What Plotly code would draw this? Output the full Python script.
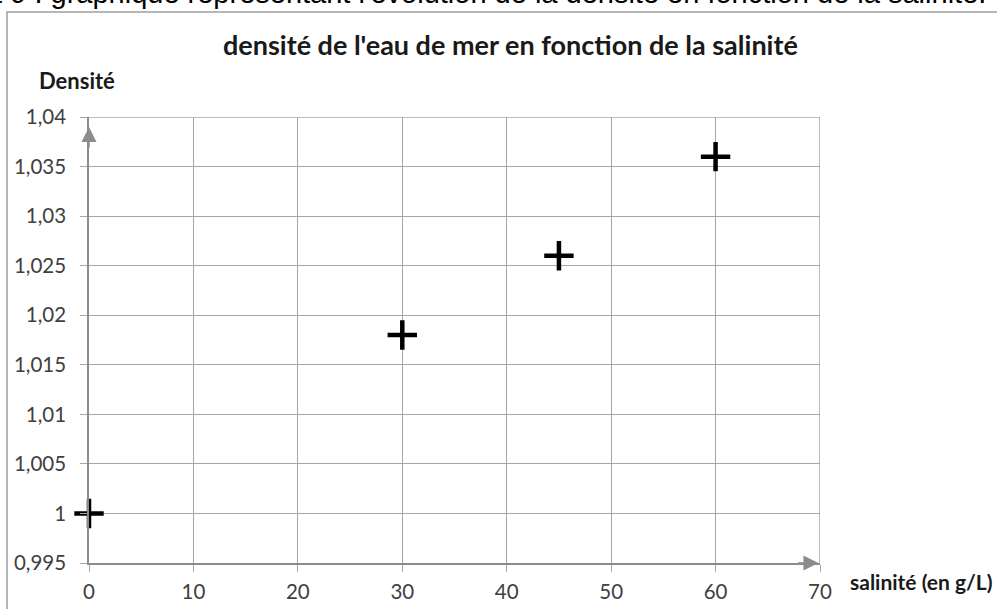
import plotly.graph_objects as go

salinite = [0, 30, 45, 60]
densite = [1.000, 1.018, 1.026, 1.036]

y_tickvals = [0.995, 1.0, 1.005, 1.01, 1.015, 1.02, 1.025, 1.03, 1.035, 1.04]
y_ticktext = ["0,995", "1", "1,005", "1,01", "1,015", "1,02", "1,025", "1,03", "1,035", "1,04"]
x_tickvals = [0, 10, 20, 30, 40, 50, 60, 70]
x_ticktext = ["0", "10", "20", "30", "40", "50", "60", "70"]

W, H = 997, 609
L, R, T, B = 89, 177, 117, 46

fig = go.Figure()
fig.add_trace(go.Scatter(
    x=salinite, y=densite, mode="markers",
    marker=dict(symbol="cross-thin", size=21, color="black",
                line=dict(color="black", width=4.5)),
    cliponaxis=False, showlegend=False, hoverinfo="x+y"))

tickfont = dict(family="Lato, Open Sans, sans-serif", size=20.5, color="#404040")
fig.update_layout(
    width=W, height=H,
    margin=dict(l=L, r=R, t=T, b=B, autoexpand=False),
    paper_bgcolor="white", plot_bgcolor="white",
    separators=", ",
    xaxis=dict(range=[0, 70], tickvals=x_tickvals, ticktext=x_ticktext,
               showgrid=True, gridcolor="#a6a6a6", gridwidth=1,
               showline=True, linecolor="#8c8c8c", linewidth=1.5,
               ticks="outside", ticklen=7, tickcolor="#a6a6a6",
               ticklabelstandoff=3, automargin=False,
               zeroline=False, tickfont=tickfont, fixedrange=True),
    yaxis=dict(range=[0.995, 1.04], tickvals=y_tickvals, ticktext=y_ticktext,
               showgrid=True, gridcolor="#a6a6a6", gridwidth=1,
               showline=True, linecolor="#8c8c8c", linewidth=1.5,
               ticks="outside", ticklen=7, tickcolor="#a6a6a6",
               ticklabelstandoff=10, automargin=False,
               zeroline=False, tickfont=tickfont, fixedrange=True),
)

# right and top plot border lines
fig.add_shape(type="line", xref="x", yref="y", x0=70, x1=70, y0=0.995, y1=1.04,
              line=dict(color="#a6a6a6", width=1.5))
fig.add_shape(type="line", xref="x", yref="y", x0=0, x1=70, y0=1.04, y1=1.04,
              line=dict(color="#a6a6a6", width=1.5))

# chart area border
px = lambda v: (v - L) / (W - L - R)
py = lambda v: 1 - (v - T) / (H - T - B)
fig.add_shape(type="rect", xref="paper", yref="paper",
              x0=px(7), x1=px(1010), y0=py(640), y1=py(12),
              line=dict(color="#a0a0a0", width=1.5), fillcolor="rgba(0,0,0,0)", layer="below")

# axis arrows
fig.add_annotation(x=0, y=1.039, xref="x", yref="y", text="", showarrow=True,
                   ax=0, ay=22, arrowhead=2, arrowsize=2, arrowwidth=1.5,
                   arrowcolor="#8c8c8c")
fig.add_annotation(x=69.85, y=0.995, xref="x", yref="y", text="", showarrow=True,
                   ax=-22, ay=0, arrowhead=2, arrowsize=2, arrowwidth=1.5,
                   arrowcolor="#8c8c8c")

# texts
fig.add_annotation(x=px(510), y=py(45), xref="paper", yref="paper",
                   text="<b>densité de l'eau de mer en fonction de la salinité</b>",
                   showarrow=False, xanchor="center", yanchor="middle",
                   font=dict(family="Lato, Open Sans, sans-serif", size=27, color="#1a1a1a"))
fig.add_annotation(x=px(37), y=py(80), xref="paper", yref="paper",
                   text="<b>Densité</b>", showarrow=False, xanchor="left", yanchor="middle",
                   font=dict(family="Lato, Open Sans, sans-serif", size=22, color="#1a1a1a"))
fig.add_annotation(x=px(848), y=py(581), xref="paper", yref="paper",
                   text="<b>salinité (en g/L)</b>", showarrow=False, xanchor="left", yanchor="middle",
                   font=dict(family="Lato, Open Sans, sans-serif", size=21, color="#1a1a1a"))
fig.add_annotation(x=px(988), y=py(11.5), xref="paper", yref="paper",
                   text="Document 9 : graphique représentant l'évolution de la densité en fonction de la salinité.",
                   showarrow=False, xanchor="right", yanchor="bottom",
                   font=dict(family="Liberation Sans, Arial, sans-serif", size=29, color="black"))

fig.write_html("out.html", config={"displayModeBar": False},
               post_script="document.body.style.margin='0';document.body.style.overflow='hidden';")
